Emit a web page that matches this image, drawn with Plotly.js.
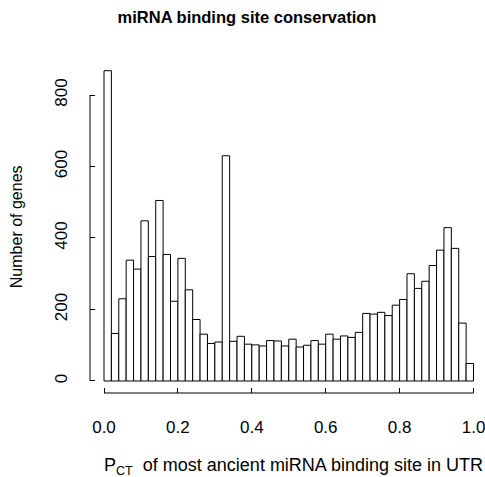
<!DOCTYPE html>
<html>
<head>
<meta charset="utf-8">
<script src="https://cdn.plot.ly/plotly-3.0.1.min.js"></script>
<style>html,body{margin:0;padding:0;background:#fff;}#chart{width:485px;height:477px;}</style>
</head>
<body>
<div id="chart"></div>
<script>
// Histogram of P_CT, 50 bins of width 0.02 on [0, 1]
const binWidth = 0.02;
const binCount = 50;
const counts = [
  868, 133, 230, 338, 313, 448, 348, 505, 354, 223,
  343, 255, 172, 131, 105, 109, 630, 111, 125, 103,
  101, 98, 113, 112, 98, 117, 95, 100, 113, 103,
  131, 117, 126, 122, 136, 189, 187, 192, 183, 212,
  228, 300, 259, 279, 323, 366, 429, 371, 162, 49
];
const xTickVals = [0, 0.2, 0.4, 0.6, 0.8, 1.0];
const xTickText = ["0.0", "0.2", "0.4", "0.6", "0.8", "1.0"];
const yTickVals = [0, 200, 400, 600, 800];
const yTickText = ["0", "200", "400", "600", "800"];

const binCenters = [];
for (let i = 0; i < binCount; i++) binCenters.push(binWidth * i + binWidth / 2);

const FONT = "Liberation Sans, Arial, Helvetica, sans-serif";

const trace = {
  type: "bar",
  x: binCenters,
  y: counts,
  width: binWidth,
  marker: {color: "#ffffff", line: {color: "#000000", width: 1}},
  hoverinfo: "x+y"
};

const layout = {
  width: 485,
  height: 477,
  margin: {l: 90, r: 1, t: 58, b: 84},
  paper_bgcolor: "#ffffff",
  plot_bgcolor: "#ffffff",
  showlegend: false,
  bargap: 0,
  font: {family: FONT, size: 17, color: "#000000"},
  title: {
    text: "miRNA binding site conservation",
    font: {family: FONT, size: 16.5, weight: "bold", color: "#000000"},
    x: 247 / 485, xref: "container", xanchor: "center",
    y: 1 - 17 / 477, yref: "container", yanchor: "middle"
  },
  xaxis: {
    range: [-0.0379, 1.0284],
    tickmode: "array",
    tickvals: xTickVals,
    ticktext: xTickText,
    ticks: "inside",
    ticklen: 5,
    tickwidth: 1,
    tickcolor: "#000000",
    ticklabelstandoff: 22,
    ticklabeloverflow: "allow",
    showgrid: false,
    zeroline: false,
    showline: false,
    tickfont: {family: FONT, size: 17}
  },
  yaxis: {
    range: [-33.6, 903.5],
    tickmode: "array",
    tickvals: yTickVals,
    ticktext: yTickText,
    tickangle: -90,
    ticks: "inside",
    ticklen: 5,
    tickwidth: 1,
    tickcolor: "#000000",
    ticklabelstandoff: 19,
    ticklabeloverflow: "allow",
    showgrid: false,
    zeroline: false,
    showline: false,
    tickfont: {family: FONT, size: 17}
  },
  shapes: [
    {type: "line", xref: "x", yref: "paper", x0: xTickVals[0], x1: xTickVals[xTickVals.length - 1], y0: 0, y1: 0, line: {color: "#000000", width: 1}},
    {type: "line", xref: "paper", yref: "y", x0: 0, x1: 0, y0: yTickVals[0], y1: yTickVals[yTickVals.length - 1], line: {color: "#000000", width: 1}}
  ],
  annotations: [
    {
      text: "P<sub>CT</sub>  of most ancient miRNA binding site in UTR",
      xref: "paper", yref: "paper", x: (293 - 90) / 394, y: (393 - 466.7) / 335,
      xanchor: "center", yanchor: "middle", showarrow: false,
      font: {family: FONT, size: 18, color: "#000000"}
    },
    {
      text: "Number of genes",
      xref: "paper", yref: "paper", x: (16.7 - 90) / 394, y: (393 - 226.5) / 335,
      xanchor: "center", yanchor: "middle", textangle: -90, showarrow: false,
      font: {family: FONT, size: 16, color: "#000000"}
    }
  ]
};

Plotly.newPlot("chart", [trace], layout, {displayModeBar: false, staticPlot: true});
</script>
</body>
</html>
